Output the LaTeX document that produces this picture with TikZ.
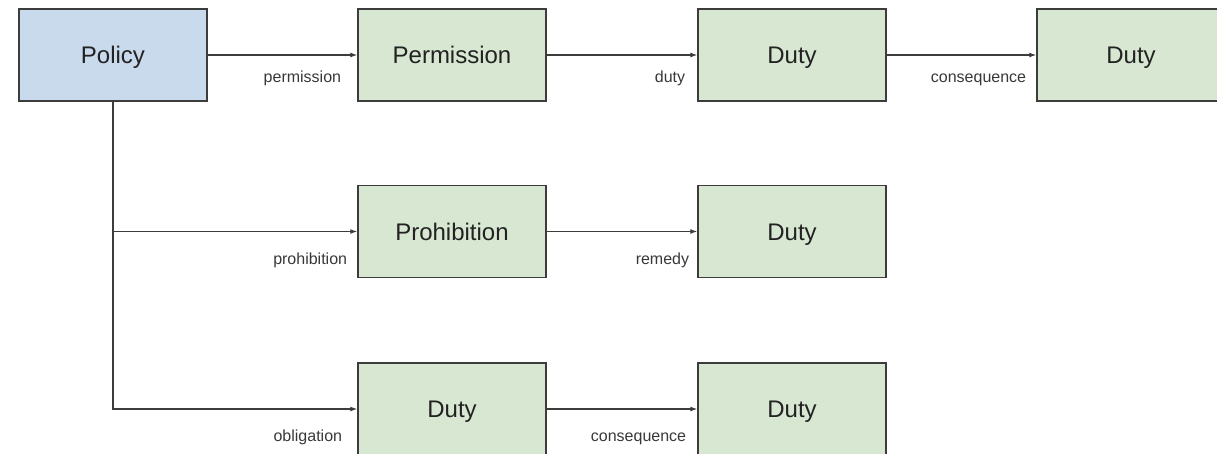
\documentclass[tikz,border=0pt]{standalone}
\usepackage{fontspec}
\setmainfont{Liberation Sans}
\usetikzlibrary{arrows.meta}
\definecolor{policyfill}{HTML}{C9DAED}
\definecolor{rulefill}{HTML}{D8E7D1}
\definecolor{edge}{HTML}{3C3C3C}
\definecolor{ink}{HTML}{222222}
\definecolor{lblink}{HTML}{383838}
\tikzset{
  box/.style={draw=edge, line width=1.4pt, rectangle, minimum width=188pt,
    minimum height=92pt, inner sep=0pt, text=ink,
    text height=17pt, text depth=0pt, font=\fontsize{24}{26}\selectfont},
  policybox/.style={box, fill=policyfill},
  rulebox/.style={box, fill=rulefill},
  arr/.style={draw=edge, line width=1.3pt, -{Latex[length=7pt,width=5pt]}},
  lbl/.style={text=lblink, font=\fontsize{16}{18}\selectfont, inner sep=0pt, anchor=base east}
}
\begin{document}
\begin{tikzpicture}[x=1pt, y=-1pt]
\useasboundingbox (0,0) rectangle (1217,453);
\clip (0,0) rectangle (1217,453);

% boxes
\node[policybox] (policy) at (113,55) {Policy};
\node[rulebox] (perm)   at (452,55) {Permission};
\node[rulebox] (duty)   at (792,55) {Duty};
\node[rulebox] (cons)   at (1131,55) {Duty};
\node[rulebox] (prohib) at (452,231.5) {Prohibition};
\node[rulebox] (remedy) at (792,231.5) {Duty};
\node[rulebox] (oblig)  at (452,409) {Duty};
\node[rulebox] (ocons)  at (792,409) {Duty};

% connectors
\draw[arr] (policy) -- (perm);
\draw[arr] (perm) -- (duty);
\draw[arr] (duty) -- (cons);
\draw[arr] (policy.south) |- (prohib.west);
\draw[arr] (policy.south) |- (oblig.west);
\draw[arr] (prohib) -- (remedy);
\draw[arr] (oblig) -- (ocons);

% connector labels
\node[lbl] (lperm)   at ([xshift=-16pt, yshift=-27pt]perm.west) {permission};
\node[lbl] (lduty)   at ([xshift=-12pt, yshift=-27pt]duty.west) {duty};
\node[lbl] (lcons)   at ([xshift=-10pt, yshift=-27pt]cons.west) {consequence};
\node[lbl] (lprohib) at ([xshift=-10pt, yshift=-33pt]prohib.west) {prohibition};
\node[lbl] (lremedy) at ([xshift=-8pt, yshift=-33pt]remedy.west) {remedy};
\node[lbl] (loblig)  at ([xshift=-15pt, yshift=-32pt]oblig.west) {obligation};
\node[lbl] (locons)  at ([xshift=-11pt, yshift=-32pt]ocons.west) {consequence};
\end{tikzpicture}
\end{document}
